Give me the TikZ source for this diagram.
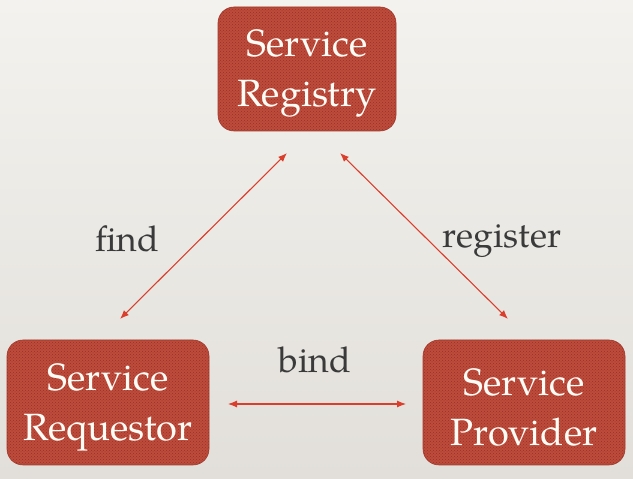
\documentclass[tikz,border=0pt]{standalone}
\usepackage{fontspec}
\setmainfont{TeX Gyre Pagella}
\usetikzlibrary{arrows.meta,patterns}
\definecolor{boxred}{RGB}{190,76,60}
\definecolor{boxdot}{RGB}{150,50,38}
\definecolor{boxedge}{RGB}{160,58,44}
\definecolor{arrred}{RGB}{218,62,44}
\definecolor{labgrey}{RGB}{58,58,58}
\definecolor{boxtext}{RGB}{255,252,246}
\definecolor{bgtop}{RGB}{243,242,238}
\definecolor{bgbot}{RGB}{226,223,218}
\tikzset{
  svcbox/.style={draw=boxedge, line width=0.6pt, preaction={fill=boxred}, pattern=crosshatch dots, pattern color=boxdot, rounded corners=16pt, inner sep=0pt},
  svctext/.style={text=boxtext, font=\fontsize{38}{50}\selectfont, align=center, inner sep=0pt},
  lbl/.style={text=labgrey, font=\fontsize{35.5}{40}\selectfont, inner sep=0pt},
  link/.style={draw=arrred, line width=1.1pt, {Latex[length=9pt,width=7pt]}-{Latex[length=9pt,width=7pt]}}
}
\begin{document}
\begin{tikzpicture}[x=1pt,y=1pt]
\useasboundingbox (0,0) rectangle (633,479);
\shade[top color=bgtop, bottom color=bgbot] (0,0) rectangle (633,479);
% boxes
\node[svcbox, minimum width=178pt, minimum height=124pt] (reg) at (307,410) {};
\node[svcbox, minimum width=202pt, minimum height=125pt] (req) at (108,76.5) {};
\node[svcbox, minimum width=202pt, minimum height=125pt] (prov) at (524,76.5) {};
% texts
\node[svctext] (regt) at ([yshift=-4pt]reg.center) {Service\\Registry};
\node[svctext] (reqt) at ([yshift=-5pt]req.center) {Service\\Requestor};
\node[svctext] (provt) at ([yshift=-5pt]prov.center) {Service\\Provider};
% arrow ends
\coordinate (fa) at (287,326);
\coordinate (fb) at (120,160);
\coordinate (ra) at (340,326);
\coordinate (rb) at (508,160);
\coordinate (ba) at (228,75);
\coordinate (bb) at (406,75);
\draw[link] (fa) -- (fb);
\draw[link] (ra) -- (rb);
\draw[link] (ba) -- (bb);
% labels
\node[lbl] (find) at (127,240) {find};
\node[lbl] (register) at (502,238) {register};
\node[lbl] (bind) at (315,119) {bind};
\end{tikzpicture}
\end{document}
